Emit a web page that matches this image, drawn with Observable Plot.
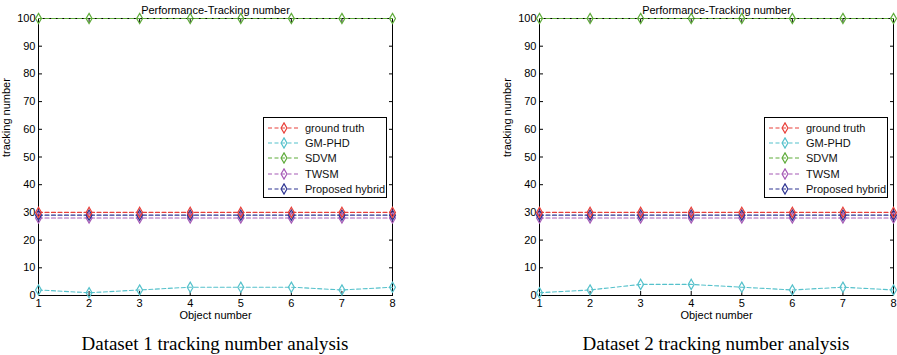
<!DOCTYPE html>
<html>
<head>
<meta charset="utf-8">
<script src="https://cdn.jsdelivr.net/npm/d3@7"></script>
<script src="https://cdn.jsdelivr.net/npm/@observablehq/plot@0.6"></script>
<style>
  html, body { margin: 0; padding: 0; background: #fff; overflow: hidden; }
  #wrap { position: relative; width: 897px; height: 355px; }
  .panel { position: absolute; top: 0; }
  .caption { position: absolute; top: 333px; width: 400px; text-align: center;
             font-family: "Liberation Serif", "Times New Roman", serif; font-size: 19px; color: #000; }
  .legend { position: absolute; background: #fff; border: 1px solid #000; box-sizing: border-box;
            font-family: "Liberation Sans", Arial, sans-serif; font-size: 11px; color: #111; padding-top: 2px;
            white-space: nowrap; overflow: hidden; }
  .legend .row { display: flex; align-items: center; height: 15.3px; white-space: nowrap; }
  .legend svg { margin-left: 3px; margin-right: 4px; flex: none; }
</style>
</head>
<body>
<div id="wrap"></div>
<script>
// ---- data ----
const objects = [1, 2, 3, 4, 5, 6, 7, 8];
const seriesNames = ["ground truth", "GM-PHD", "SDVM", "TWSM", "Proposed hybrid"];
const seriesColors = ["#e8403a", "#55c1cb", "#5fab3b", "#a65ab6", "#2f3592"];
const groundTruth = [30, 30, 30, 30, 30, 30, 30, 30];
const sdvm = [100, 100, 100, 100, 100, 100, 100, 100];
const twsm = [28, 28, 28, 28, 28, 28, 28, 28];
const hybrid = [29, 29, 29, 29, 29, 29, 29, 29];
const gmphd1 = [2, 1, 2, 3, 3, 3, 2, 3];
const gmphd2 = [1, 2, 4, 4, 3, 2, 3, 2];
const yTicks = [0, 10, 20, 30, 40, 50, 60, 70, 80, 90, 100];
const titleText = "Performance-Tracking number";
const xLabel = "Object number";
const yLabel = "tracking number";
const captions = ["Dataset 1 tracking number analysis", "Dataset 2 tracking number analysis"];

function buildRows(gm) {
  const vals = [groundTruth, gm, sdvm, twsm, hybrid];
  const rows = [];
  // draw order: GM-PHD, TWSM, hybrid, ground truth, SDVM
  [1, 3, 4, 0, 2].forEach(si => {
    objects.forEach((x, i) => rows.push({series: seriesNames[si], x, y: vals[si][i]}));
  });
  return rows;
}

function makePanel(gm, left, mLeft, mRight) {
  const rows = buildRows(gm);
  const chart = Plot.plot({
    width: mLeft + 354 + mRight,
    height: 325,
    marginTop: 18,
    marginBottom: 30,
    marginLeft: mLeft,
    marginRight: mRight,
    style: {fontFamily: "'Liberation Sans', Arial, sans-serif", fontSize: "11px", color: "#000", background: "transparent"},
    x: {domain: [1, 8]},
    y: {domain: [0, 100]},
    color: {domain: seriesNames, range: seriesColors},
    marks: [
      Plot.frame({stroke: "#000", strokeWidth: 1}),
      Plot.axisX(objects, {anchor: "bottom", tickSize: -4, tickPadding: 8, label: null, tickFormat: d => String(d), fontSize: 11}),
      Plot.axisX(objects, {anchor: "top", tickSize: -4, tickFormat: () => "", label: null}),
      Plot.axisY(yTicks, {anchor: "left", tickSize: -4, tickPadding: 7, label: null, fontSize: 11}),
      Plot.axisY(yTicks, {anchor: "right", tickSize: -4, tickFormat: () => "", label: null}),
      Plot.line(rows, {x: "x", y: "y", z: "series", stroke: "series", strokeWidth: 1.1, strokeDasharray: "4,2.5"}),
      Plot.dot(rows, {x: "x", y: "y", stroke: "series", symbol: "diamond", r: 3.1, fill: "none", strokeWidth: 1.2}),
      Plot.text([titleText], {frameAnchor: "top", dy: -12, fontSize: 11}),
      Plot.text([xLabel], {frameAnchor: "bottom", dy: 23, fontSize: 11}),
      Plot.text([yLabel], {frameAnchor: "left", dx: -32, rotate: -90, fontSize: 11})
    ]
  });
  chart.classList.add("panel");
  chart.style.left = left + "px";
  return chart;
}

function makeLegend(left, top) {
  const div = document.createElement("div");
  div.className = "legend";
  div.style.left = left + "px";
  div.style.top = top + "px";
  div.style.width = "124px";
  div.style.height = "81px";
  seriesNames.forEach((name, i) => {
    const row = document.createElement("div");
    row.className = "row";
    const c = seriesColors[i];
    row.innerHTML = `<svg width="34" height="12"><line x1="1" y1="6" x2="33" y2="6" stroke="${c}" stroke-width="1.1" stroke-dasharray="4,2.5"/>` +
      `<path d="${d3.symbol(d3.symbolDiamond, 30)()}" transform="translate(17,6)" fill="none" stroke="${c}" stroke-width="1.2"/></svg><span>${name}</span>`;
    div.appendChild(row);
  });
  return div;
}

const wrap = document.getElementById("wrap");
wrap.appendChild(makePanel(gmphd1, 0, 38, 10));
wrap.appendChild(makePanel(gmphd2, 449, 90, 5));
wrap.appendChild(makeLegend(263, 117));
wrap.appendChild(makeLegend(764, 117));
captions.forEach((t, i) => {
  const c = document.createElement("div");
  c.className = "caption";
  c.textContent = t;
  c.style.left = (i === 0 ? 215 - 200 : 716 - 200) + "px";
  wrap.appendChild(c);
});
</script>
</body>
</html>
